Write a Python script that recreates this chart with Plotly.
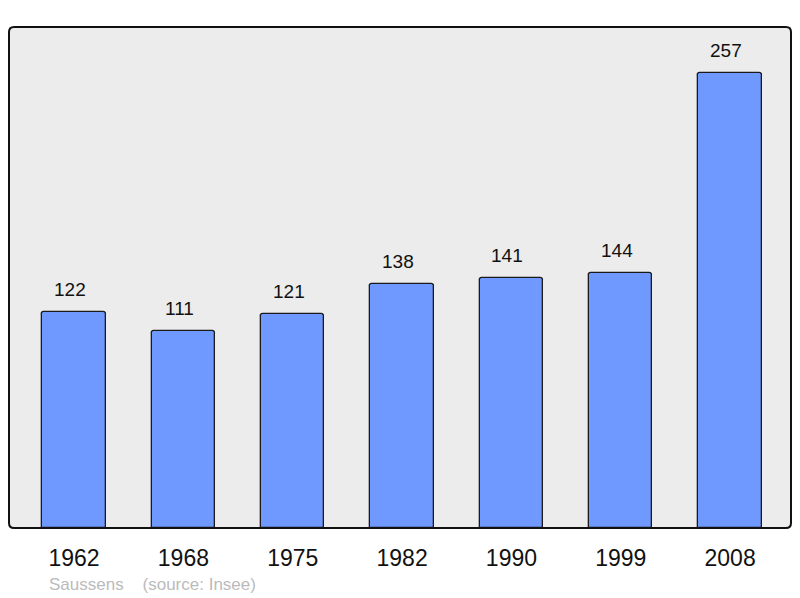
import plotly.graph_objects as go

years = ["1962", "1968", "1975", "1982", "1990", "1999", "2008"]
population = [122, 111, 121, 138, 141, 144, 257]
source_text = "Saussens    (source: Insee)"

W, H = 800, 598
L, R, T, B = 9, 9, 27, 70
pw, ph = W - L - R, H - T - B
FONT = "Liberation Sans, Arial, sans-serif"

fig = go.Figure()
fig.add_trace(go.Bar(
    x=list(range(len(years))), y=population,
    width=0.58,
    marker=dict(color="#7099ff", line=dict(color="#1a1a1a", width=1.3), cornerradius=3),
    hoverinfo="skip",
))

for i, v in enumerate(population):
    fig.add_annotation(x=i, y=v, text=str(v), showarrow=False, yanchor="bottom",
                       yshift=10, xshift=-4,
                       font=dict(size=19, color="#111111", family=FONT))

# rounded frame
rx, ry = 5 / pw, 5 / ph
path = (f"M {rx},0 L {1-rx},0 Q 1,0 1,{ry} L 1,{1-ry} Q 1,1 {1-rx},1 "
        f"L {rx},1 Q 0,1 0,{1-ry} L 0,{ry} Q 0,0 {rx},0 Z")
fig.add_shape(type="path", path=path, xref="paper", yref="paper",
              line=dict(color="#111111", width=2), layer="above")

fig.add_annotation(x=(47 - L) / pw, y=(H - B - 584) / ph, xref="paper", yref="paper",
                   text=source_text, showarrow=False, xanchor="left", yanchor="middle",
                   font=dict(size=17, color="#bbbbbb", family=FONT))

fig.update_layout(
    width=W, height=H,
    margin=dict(l=L, r=R, t=T, b=B, autoexpand=False),
    paper_bgcolor="white", plot_bgcolor="#ececec",
    showlegend=False,
    xaxis=dict(range=[-0.595, 6.557], tickvals=list(range(len(years))), ticktext=years,
               showgrid=False, zeroline=False, ticks="", fixedrange=True,
               ticklabelstandoff=14,
               tickfont=dict(size=23, color="#111111", family=FONT)),
    yaxis=dict(range=[0, 283], showgrid=False, zeroline=False, showticklabels=False,
               ticks="", fixedrange=True),
    bargap=0,
)
fig.write_html("out.html", config={"displayModeBar": False},
               post_script="document.body.style.margin='0';document.body.style.overflow='hidden';")
